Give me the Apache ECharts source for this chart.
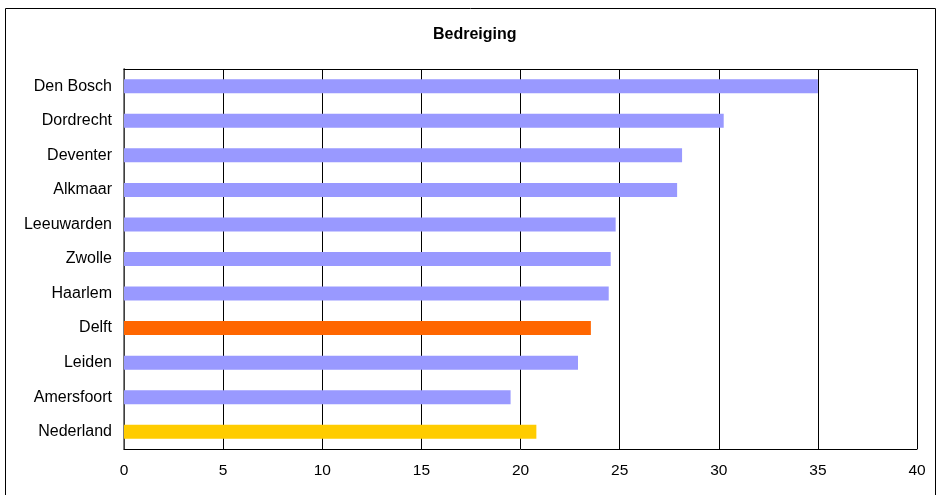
<!DOCTYPE html>
<html><head><meta charset="utf-8">
<script src="https://cdn.jsdelivr.net/npm/echarts@6/dist/echarts.min.js"></script>
<style>html,body{margin:0;padding:0;background:#fff}#c{width:937px;height:495px}</style>
</head><body><div id="c"></div>
<script>
const categories = ["Den Bosch","Dordrecht","Deventer","Alkmaar","Leeuwarden","Zwolle","Haarlem","Delft","Leiden","Amersfoort","Nederland"];
const values = [35.0,30.25,28.15,27.9,24.8,24.55,24.45,23.55,22.9,19.5,20.8];
const barColors = ["#9999FF","#9999FF","#9999FF","#9999FF","#9999FF","#9999FF","#9999FF","#FF6600","#9999FF","#9999FF","#FFCC00"];
const xTicks = [0,5,10,15,20,25,30,35,40];
const font = 'Liberation Sans, Arial';
const chart = echarts.init(document.getElementById('c'), null, {renderer:'canvas'});
chart.setOption({
  animation:false,
  title:{text:'Bedreiging',left:428,top:22,textStyle:{fontFamily:font,fontSize:16,fontWeight:'bold',color:'#000'}},
  graphic:[{type:'rect',shape:{x:5.5,y:8.5,width:930,height:500},style:{fill:'none',stroke:'#000',lineWidth:1},silent:true}],
  grid:{left:124,top:69,width:793,height:380,containLabel:false},
  xAxis:[{type:'value',min:0,max:40,interval:5,
    axisLine:{show:true,lineStyle:{color:'#000'}},axisTick:{show:false},
    splitLine:{show:true,lineStyle:{color:'#000',width:1}},
    axisLabel:{margin:14,fontFamily:font,fontSize:15.5,color:'#000',formatter:v=>xTicks.includes(v)?String(v):''}},
    {type:'value',position:'top',min:0,max:40,interval:5,
    axisLine:{show:true,lineStyle:{color:'#000'}},axisTick:{show:false},axisLabel:{show:false},splitLine:{show:false}}],
  yAxis:[{type:'category',data:categories,inverse:true,
    axisLine:{show:true,lineStyle:{color:'#000'}},axisTick:{show:false},
    axisLabel:{margin:12,fontFamily:font,fontSize:16,color:'#000'}},
    {type:'category',data:categories,inverse:true,position:'right',
    axisLine:{show:true,lineStyle:{color:'#555',width:1.5}},axisTick:{show:false},axisLabel:{show:false}}],
  series:[{type:'bar',barWidth:14,
    data:values.map((v,i)=>({value:v,itemStyle:{color:barColors[i]}}))}]
});
</script></body></html>
